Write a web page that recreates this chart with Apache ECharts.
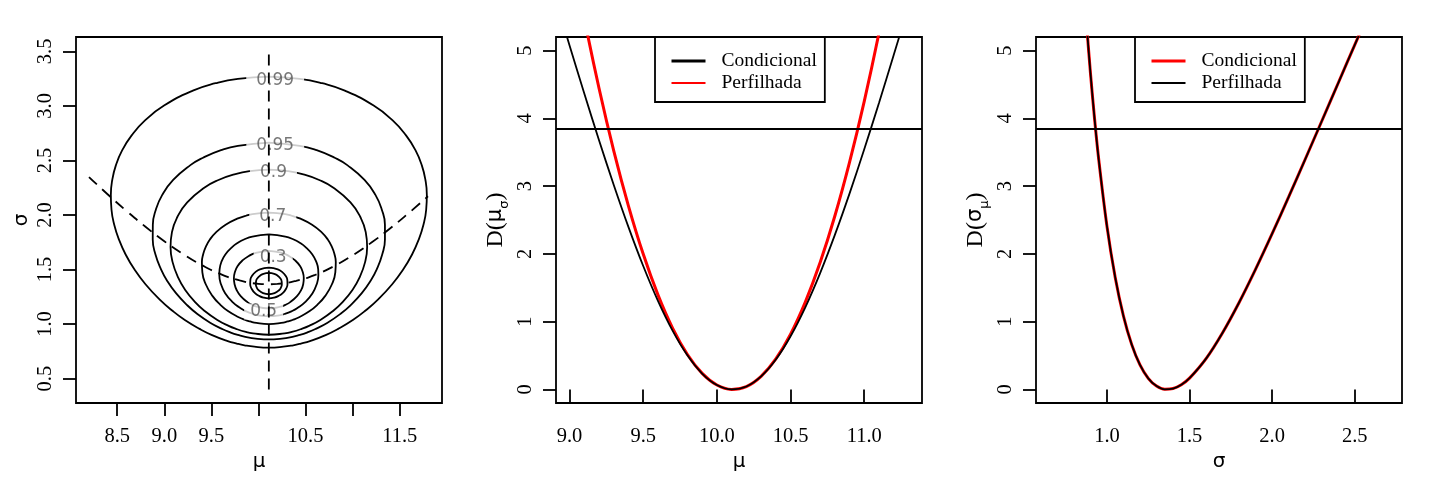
<!DOCTYPE html>
<html>
<head>
<meta charset="utf-8">
<script src="https://cdn.jsdelivr.net/npm/echarts@6/dist/echarts.min.js"></script>
<style>html,body{margin:0;padding:0;background:#fff}#chart{width:1440px;height:480px}</style>
</head>
<body>
<div id="chart"></div>
<script>
// ---------- Panel 1: contours of the relative likelihood (mu, sigma) ----------
const c99 = [[10.11,3.269],[10.439,3.249],[10.676,3.208],[10.917,3.140],[11.223,3.003],[11.425,2.867],[11.567,2.730],[11.667,2.594],[11.734,2.457],[11.773,2.321],[11.788,2.184],[11.781,2.048],[11.752,1.911],[11.702,1.775],[11.631,1.638],[11.538,1.502],[11.420,1.365],[11.274,1.229],[11.130,1.119],[11.002,1.037],[10.846,0.956],[10.719,0.901],[10.554,0.846],[10.443,0.819],[10.369,0.805],[10.264,0.792],[10.11,0.784],[9.956,0.792],[9.851,0.805],[9.777,0.819],[9.666,0.846],[9.501,0.901],[9.374,0.956],[9.218,1.037],[9.090,1.119],[8.946,1.229],[8.800,1.365],[8.682,1.502],[8.589,1.638],[8.518,1.775],[8.468,1.911],[8.439,2.048],[8.432,2.184],[8.447,2.321],[8.486,2.457],[8.553,2.594],[8.653,2.730],[8.795,2.867],[8.997,3.003],[9.303,3.140],[9.544,3.208],[9.781,3.249],[10.11,3.269]];
const c95 = [[10.11,2.663],[10.439,2.634],[10.618,2.594],[10.809,2.525],[10.943,2.457],[11.126,2.321],[11.242,2.184],[11.310,2.048],[11.343,1.911],[11.343,1.775],[11.314,1.638],[11.256,1.502],[11.187,1.392],[11.097,1.283],[10.980,1.174],[10.869,1.092],[10.729,1.010],[10.608,0.956],[10.533,0.928],[10.440,0.901],[10.306,0.874],[10.162,0.860],[10.11,0.859],[10.058,0.860],[9.914,0.874],[9.780,0.901],[9.687,0.928],[9.612,0.956],[9.491,1.010],[9.351,1.092],[9.241,1.174],[9.124,1.283],[9.033,1.392],[8.965,1.502],[8.906,1.638],[8.877,1.775],[8.878,1.911],[8.910,2.048],[8.978,2.184],[9.094,2.321],[9.277,2.457],[9.411,2.525],[9.602,2.594],[9.781,2.634],[10.11,2.663]];
const c90 = [[10.11,2.415],[10.312,2.402],[10.466,2.375],[10.645,2.321],[10.792,2.252],[10.977,2.116],[11.083,1.979],[11.139,1.843],[11.154,1.706],[11.133,1.570],[11.070,1.420],[10.996,1.310],[10.893,1.201],[10.791,1.119],[10.657,1.037],[10.537,0.983],[10.459,0.956],[10.354,0.928],[10.278,0.915],[10.11,0.902],[9.942,0.915],[9.866,0.928],[9.761,0.956],[9.683,0.983],[9.563,1.037],[9.429,1.119],[9.327,1.201],[9.224,1.310],[9.150,1.420],[9.087,1.570],[9.066,1.706],[9.081,1.843],[9.137,1.979],[9.243,2.116],[9.428,2.252],[9.575,2.321],[9.754,2.375],[9.908,2.402],[10.11,2.415]];
const c70 = [[10.11,2.021],[10.284,2.007],[10.352,1.993],[10.446,1.966],[10.569,1.911],[10.669,1.843],[10.736,1.775],[10.781,1.706],[10.808,1.638],[10.821,1.570],[10.816,1.474],[10.780,1.365],[10.707,1.256],[10.622,1.174],[10.544,1.119],[10.437,1.065],[10.361,1.037],[10.311,1.024],[10.241,1.010],[10.11,1.000],[9.979,1.010],[9.909,1.024],[9.859,1.037],[9.784,1.065],[9.676,1.119],[9.598,1.174],[9.513,1.256],[9.440,1.365],[9.404,1.474],[9.399,1.570],[9.412,1.638],[9.439,1.706],[9.484,1.775],[9.551,1.843],[9.651,1.911],[9.774,1.966],[9.868,1.993],[9.936,2.007],[10.11,2.021]];
const c50 = [[10.11,1.822],[10.285,1.802],[10.374,1.775],[10.435,1.747],[10.500,1.706],[10.572,1.638],[10.614,1.570],[10.634,1.502],[10.636,1.447],[10.618,1.365],[10.574,1.283],[10.495,1.201],[10.414,1.147],[10.356,1.119],[10.273,1.092],[10.205,1.078],[10.11,1.072],[10.015,1.078],[9.947,1.092],[9.864,1.119],[9.807,1.147],[9.725,1.201],[9.646,1.283],[9.602,1.365],[9.584,1.447],[9.587,1.502],[9.606,1.570],[9.648,1.638],[9.720,1.706],[9.785,1.747],[9.846,1.775],[9.935,1.802],[10.11,1.822]];
const c30 = [[10.11,1.670],[10.249,1.652],[10.323,1.624],[10.390,1.583],[10.443,1.529],[10.471,1.474],[10.481,1.420],[10.475,1.365],[10.452,1.310],[10.409,1.256],[10.337,1.201],[10.280,1.174],[10.239,1.160],[10.171,1.147],[10.11,1.143],[10.049,1.147],[9.981,1.160],[9.940,1.174],[9.883,1.201],[9.811,1.256],[9.769,1.310],[9.746,1.365],[9.739,1.420],[9.749,1.474],[9.777,1.529],[9.830,1.583],[9.897,1.624],[9.971,1.652],[10.11,1.670]];
const c10 = [[10.11,1.518],[10.205,1.502],[10.256,1.474],[10.284,1.447],[10.306,1.406],[10.308,1.365],[10.293,1.324],[10.257,1.283],[10.210,1.256],[10.167,1.242],[10.11,1.236],[10.053,1.242],[10.010,1.256],[9.963,1.283],[9.927,1.324],[9.912,1.365],[9.914,1.406],[9.936,1.447],[9.964,1.474],[10.015,1.502],[10.11,1.518]];
const c05 = [[10.11,1.469],[10.167,1.461],[10.198,1.447],[10.231,1.420],[10.246,1.392],[10.248,1.365],[10.240,1.338],[10.218,1.310],[10.171,1.283],[10.11,1.273],[10.049,1.283],[10.002,1.310],[9.980,1.338],[9.972,1.365],[9.974,1.392],[9.989,1.420],[10.022,1.447],[10.053,1.461],[10.11,1.469]];
const contourLevels = ['0.99','0.95','0.9','0.7','0.5','0.3','0.1','0.05'];
const contourLines = [c99, c95, c90, c70, c50, c30, c10, c05];
const labelTexts = ['0.99','0.95','0.9','0.7','0.3','0.5'];
const labelAt = [[10.177,3.235],[10.178,2.632],[10.159,2.386],[10.152,1.987],[10.156,1.607],[10.055,1.115]];
// dashed paths: sigma-profile (vertical) and mu-profile (curve)
const vertMu = [10.11, 10.11];
const vertSigma = [0.4, 3.5];
const profMu = [8.2,8.4,8.6,8.8,9.0,9.2,9.4,9.6,9.8,10.0,10.11,10.2,10.4,10.6,10.8,11.0,11.2,11.4,11.6,11.8];
const profSigma = [2.348,2.188,2.036,1.892,1.759,1.641,1.539,1.457,1.400,1.369,1.365,1.368,1.396,1.450,1.530,1.630,1.747,1.878,2.021,2.172];
const p1XTicks = [8.5,9.0,9.5,10.0,10.5,11.0,11.5];
const p1XLabels = [8.5,9.0,9.5,10.5,11.5];
const p1YTicks = [0.5,1.0,1.5,2.0,2.5,3.0,3.5];

// ---------- Panel 2: deviance of mu ----------
const muGrid = [8.9,9.0,9.1,9.2,9.3,9.4,9.5,9.6,9.7,9.8,9.9,10.0,10.1,10.2,10.3,10.4,10.5,10.6,10.7,10.8,10.9,11.0,11.1,11.2,11.3,11.4];
const devMuCond = [5.799,5.076,4.366,3.677,3.017,2.395,1.821,1.307,0.864,0.503,0.234,0.065,0.001,0.043,0.192,0.441,0.785,1.212,1.713,2.276,2.889,3.543,4.227,4.933,5.653,6.382];
const devMuPerf = [7.858,6.613,5.475,4.444,3.521,2.706,1.997,1.396,0.902,0.516,0.237,0.065,0.001,0.043,0.194,0.451,0.816,1.289,1.868,2.555,3.350,4.251,5.260,6.377,7.600,8.931];
const p2XTicks = [9.0,9.5,10.0,10.5,11.0];
const devTicks = [0,1,2,3,4,5];
const cutoff = 3.84;

// ---------- Panel 3: deviance of sigma ----------
const sigGrid = [0.85,0.875,0.9,0.925,0.95,1.0,1.05,1.1,1.15,1.2,1.25,1.3,1.35,1.4,1.45,1.5,1.6,1.7,1.8,1.9,2.0,2.1,2.2,2.3,2.4,2.5,2.6];
const devSigCond = [6.315,5.442,4.672,3.994,3.396,2.409,1.653,1.082,0.661,0.362,0.164,0.049,0.002,0.013,0.070,0.167,0.455,0.837,1.283,1.775,2.298,2.841,3.396,3.957,4.521,5.084,5.643];
const devSigPerf = [6.315,5.442,4.672,3.994,3.396,2.409,1.653,1.082,0.661,0.362,0.164,0.049,0.002,0.013,0.070,0.167,0.455,0.837,1.283,1.775,2.298,2.841,3.396,3.957,4.521,5.084,5.643];
const p3XTicks = [1.0,1.5,2.0,2.5];

// ---------- build ----------
const zip = (xs, ys) => xs.map((x, i) => [x, ys[i]]);
const SERIF = 'Liberation Serif';
const SANS = 'DejaVu Sans';
const LW = 1.8;

function xAxis(gi, min, max, ticks, labels, name, gap) {
  return {
    type: 'value', gridIndex: gi, min: min, max: max,
    axisLine: { show: false }, splitLine: { show: false },
    axisTick: { show: true, length: 13, customValues: ticks, lineStyle: { color: '#000', width: LW } },
    axisLabel: { customValues: labels, formatter: v => v.toFixed(1), fontFamily: SERIF, fontSize: 20.5, color: '#000', margin: 23 },
    name: name, nameLocation: 'middle', nameGap: gap,
    nameTextStyle: { fontFamily: SANS, fontSize: 20, color: '#000' }
  };
}
function yAxis(gi, min, max, ticks, dec, name, gap, rich) {
  return {
    type: 'value', gridIndex: gi, min: min, max: max,
    axisLine: { show: false }, splitLine: { show: false },
    axisTick: { show: true, length: 13, customValues: ticks, lineStyle: { color: '#000', width: LW } },
    axisLabel: { customValues: ticks, formatter: v => v.toFixed(dec), rotate: 90, fontFamily: SERIF, fontSize: 20.5, color: '#000', margin: 20 },
    name: name, nameLocation: 'middle', nameGap: gap, nameRotate: 90,
    nameTextStyle: rich ? { rich: rich, color: '#000' } : { fontFamily: SANS, fontSize: 20, color: '#000' }
  };
}
const devRich = {
  n: { fontFamily: SERIF, fontSize: 24, lineHeight: 30, color: '#000' },
  g: { fontFamily: SANS, fontSize: 21, lineHeight: 30, color: '#000' },
  s: { fontFamily: SANS, fontSize: 13, lineHeight: 13, verticalAlign: 'bottom', color: '#000' }
};

const grids = [
  { left: 76, top: 37, width: 366, height: 366 },
  { left: 556, top: 37, width: 366, height: 366 },
  { left: 1036, top: 37, width: 366, height: 366 }
].map(g => Object.assign(g, { show: true, borderColor: '#000', borderWidth: LW, backgroundColor: 'transparent', containLabel: false, outerBoundsMode: 'none' }));

const series = [];
contourLines.forEach((pts, i) => {
  series.push({
    name: 'nível ' + contourLevels[i], type: 'line', xAxisIndex: 0, yAxisIndex: 0,
    data: pts, smooth: 0.5, symbol: 'none', silent: true, z: 2,
    lineStyle: { color: '#000', width: LW }
  });
});
series.push({
  name: 'rótulos', type: 'scatter', xAxisIndex: 0, yAxisIndex: 0, silent: true, z: 3,
  symbolSize: 1, itemStyle: { color: 'rgba(0,0,0,0)' },
  data: labelAt.map((p, i) => ({ value: p, label: { formatter: labelTexts[i], padding: i < 4 ? [0, 10] : [0, 6] } })),
  label: { show: true, position: 'inside', fontFamily: SANS, fontSize: 17, color: '#555', backgroundColor: '#fff', lineHeight: 16 }
});
series.push({
  name: 'perfil σ', type: 'line', xAxisIndex: 0, yAxisIndex: 0, data: zip(vertMu, vertSigma),
  symbol: 'none', silent: true, z: 4, lineStyle: { color: '#000', width: LW, type: [11, 7] }
});
series.push({
  name: 'perfil μ', type: 'line', xAxisIndex: 0, yAxisIndex: 0, data: zip(profMu, profSigma),
  smooth: 0.5, symbol: 'none', silent: true, z: 4, lineStyle: { color: '#000', width: LW, type: [11, 7] }
});
const cut = { silent: true, symbol: ['none', 'none'], label: { show: false }, lineStyle: { color: '#000', width: LW, type: 'solid' }, data: [{ yAxis: cutoff }] };
// panel 2
series.push({ name: 'Perfilhada', type: 'line', xAxisIndex: 1, yAxisIndex: 1, data: zip(muGrid, devMuPerf), smooth: 0.3, symbol: 'none', silent: true, lineStyle: { color: '#ff0000', width: 3 }, itemStyle: { color: '#ff0000' } });
series.push({ name: 'Condicional', type: 'line', xAxisIndex: 1, yAxisIndex: 1, data: zip(muGrid, devMuCond), smooth: 0.3, symbol: 'none', silent: true, lineStyle: { color: '#000', width: LW }, itemStyle: { color: '#000' }, markLine: cut });
// panel 3
series.push({ name: 'Condicional', type: 'line', xAxisIndex: 2, yAxisIndex: 2, data: zip(sigGrid, devSigCond), smooth: 0.3, symbol: 'none', silent: true, lineStyle: { color: '#ff0000', width: 3 }, itemStyle: { color: '#ff0000' } });
series.push({ name: 'Perfilhada', type: 'line', xAxisIndex: 2, yAxisIndex: 2, data: zip(sigGrid, devSigPerf), smooth: 0.3, symbol: 'none', silent: true, lineStyle: { color: '#000', width: LW }, itemStyle: { color: '#000' }, markLine: cut });

function legend(left, colA, wA, colB, wB) {
  return {
    orient: 'vertical', left: left, top: 37, padding: [14, 8, 9, 15], itemGap: 2, itemWidth: 34, itemHeight: 14,
    borderColor: '#000', borderWidth: LW, backgroundColor: '#fff', selectedMode: false,
    textStyle: { fontFamily: SERIF, fontSize: 19.5, lineHeight: 20, color: '#000', padding: [0, 0, 0, 11] },
    data: [
      { name: 'Condicional', lineStyle: { color: colA, width: wA }, itemStyle: { color: colA, opacity: 0 } },
      { name: 'Perfilhada', lineStyle: { color: colB, width: wB }, itemStyle: { color: colB, opacity: 0 } }
    ]
  };
}

const option = {
  animation: false,
  backgroundColor: '#fff',
  grid: grids,
  xAxis: [
    xAxis(0, 8.062, 11.949, p1XTicks, p1XLabels, 'μ', 42),
    xAxis(1, 8.908, 11.392, p2XTicks, p2XTicks, 'μ', 42),
    xAxis(2, 0.5705, 2.786, p3XTicks, p3XTicks, 'σ', 44)
  ],
  yAxis: [
    yAxis(0, 0.276, 3.632, p1YTicks, 1, 'σ', 44),
    yAxis(1, -0.2, 5.2, devTicks, 0, '{n|D(}{g|μ}{s|σ}{n|)}', 45, devRich),
    yAxis(2, -0.2, 5.2, devTicks, 0, '{n|D(}{g|σ}{s|μ}{n|)}', 45, devRich)
  ],
  legend: [ legend(655, '#000', 3, '#ff0000', LW), legend(1135, '#ff0000', 3, '#000', LW) ],
  series: series
};
const chart = echarts.init(document.getElementById('chart'), null, { renderer: 'canvas' });
chart.setOption(option);
</script>
</body>
</html>
